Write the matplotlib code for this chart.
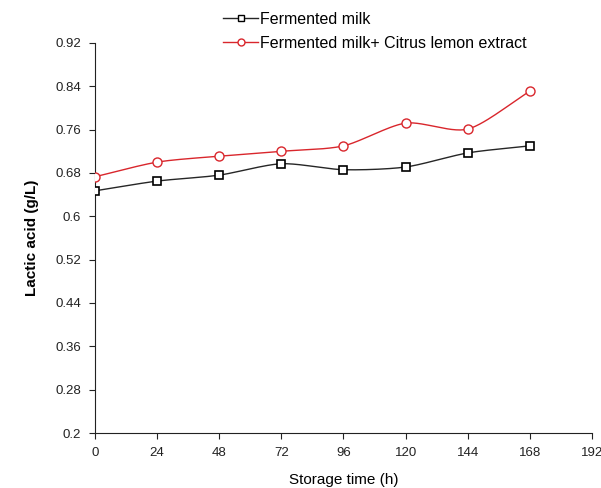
import numpy as np
import matplotlib
matplotlib.use("Agg")
import matplotlib.pyplot as plt
from matplotlib.lines import Line2D

plt.rcParams['font.family'] = ['Liberation Sans', 'DejaVu Sans']

hours = [0, 24, 48, 72, 96, 120, 144, 168]
fermented_milk = [0.647, 0.665, 0.676, 0.697, 0.686, 0.691, 0.717, 0.730]
fermented_lemon = [0.673, 0.700, 0.711, 0.720, 0.730, 0.772, 0.761, 0.831]
xticks = [0, 24, 48, 72, 96, 120, 144, 168, 192]
yticks = [0.2, 0.28, 0.36, 0.44, 0.52, 0.6, 0.68, 0.76, 0.84, 0.92]


def smooth(x, y, n=30):
    """Catmull-Rom style smoothing through the data points."""
    x = np.asarray(x, float)
    y = np.asarray(y, float)
    px = np.concatenate([[2 * x[0] - x[1]], x, [2 * x[-1] - x[-2]]])
    py = np.concatenate([[2 * y[0] - y[1]], y, [2 * y[-1] - y[-2]]])
    xs, ys = [], []
    for i in range(1, len(px) - 2):
        t = np.linspace(0, 1, n)
        for arr, out in ((px, xs), (py, ys)):
            p0, p1, p2, p3 = arr[i - 1], arr[i], arr[i + 1], arr[i + 2]
            m1 = (p2 - p0) / 2 * 0.8
            m2 = (p3 - p1) / 2 * 0.8
            h00 = 2 * t**3 - 3 * t**2 + 1
            h10 = t**3 - 2 * t**2 + t
            h01 = -2 * t**3 + 3 * t**2
            h11 = t**3 - t**2
            out.extend(h00 * p1 + h10 * m1 + h01 * p2 + h11 * m2)
    return np.array(xs), np.array(ys)


fig = plt.figure(figsize=(6.01, 4.88), dpi=100)
ax = fig.add_axes([0.158, 0.1127, 0.827, 0.7993])

black = '#262626'
red = '#d9262c'

sx, sy = smooth(hours, fermented_milk)
ax.plot(sx, sy, color=black, lw=1.0, zorder=2)
ax.plot(hours, fermented_milk, ls='none', marker='s', ms=6, mfc='white',
        mec='black', mew=1.2, zorder=3)

sx, sy = smooth(hours, fermented_lemon)
ax.plot(sx, sy, color=red, lw=1.0, zorder=2)
ax.plot(hours, fermented_lemon, ls='none', marker='o', ms=6.5, mfc='white',
        mec=red, mew=1.0, zorder=3)

ax.set_xlim(0, 192)
ax.set_ylim(0.2, 0.92)
ax.set_xticks(xticks)
ax.set_xticklabels([str(v) for v in xticks])
ax.set_yticks(yticks)
ax.set_yticklabels([f'{v:g}' for v in yticks])
ax.tick_params(direction='out', length=4, width=0.8, labelsize=9.5, colors='#222222')
ax.tick_params(axis='x', pad=6)
ax.tick_params(axis='y', pad=6)
for s in ('top', 'right'):
    ax.spines[s].set_visible(False)
for s in ('left', 'bottom'):
    ax.spines[s].set_color('#222222')
    ax.spines[s].set_linewidth(0.8)

ax.set_xlabel('Storage time (h)', fontsize=11, labelpad=10)
ax.set_ylabel('Lactic acid (g/L)', fontsize=11, fontweight='bold', labelpad=12)

handles = [
    Line2D([], [], color=black, lw=1.0, marker='s', ms=5, mfc='white', mec='black'),
    Line2D([], [], color=red, lw=1.0, marker='o', ms=5, mfc='white', mec=red),
]
fig.legend(handles, ['Fermented milk', 'Fermented milk+ Citrus lemon extract'],
           loc='upper left', bbox_to_anchor=(0.355, 0.995), frameon=False,
           fontsize=11.5, handlelength=2.2, handletextpad=0.15, labelspacing=0.55,
           borderaxespad=0.2)

fig.savefig('out.png', dpi=100)
